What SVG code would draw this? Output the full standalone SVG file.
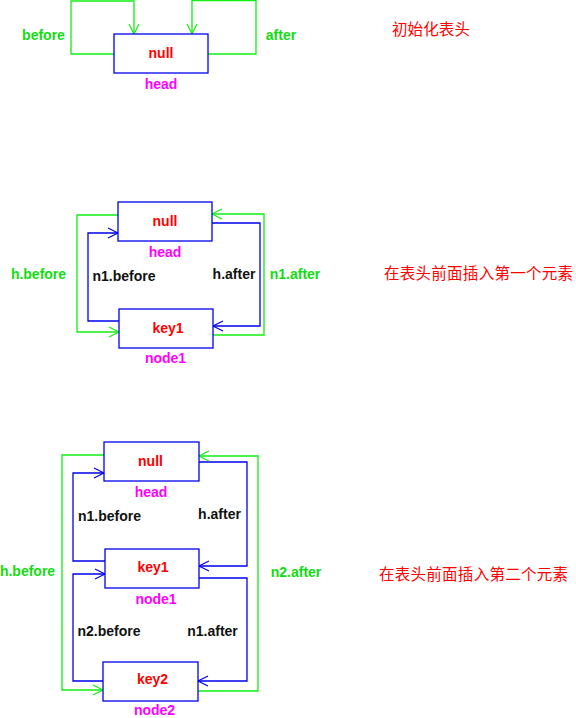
<svg xmlns="http://www.w3.org/2000/svg" width="576" height="718" viewBox="0 0 576 718">
<style>
.box{fill:#fff;stroke:#0000ee;stroke-width:1.3}
.g{fill:none;stroke:#11ee11;stroke-width:1.3}
.b{fill:none;stroke:#0000ee;stroke-width:1.3}
.t{font-family:"Liberation Sans",Arial,sans-serif;font-weight:bold;font-size:14px;text-anchor:middle}
.red{fill:#ff0000}
.mag{fill:#ff00ff}
.blk{fill:#111}
.grn{fill:#11dd11}
.cn{font-family:"Noto Sans CJK SC","Noto Sans CJK JP",sans-serif;font-size:15.5px;fill:#ff0000}
</style>
<defs>
<marker id="ag" markerUnits="userSpaceOnUse" markerWidth="14" markerHeight="14" refX="0" refY="0" viewBox="-12 -7 14 14" orient="auto">
<path d="M-10,-5 L0,0 L-10,5" fill="none" stroke="#11ee11" stroke-width="1.2"/>
</marker>
<marker id="ab" markerUnits="userSpaceOnUse" markerWidth="14" markerHeight="14" refX="0" refY="0" viewBox="-12 -7 14 14" orient="auto">
<path d="M-10,-5 L0,0 L-10,5" fill="none" stroke="#0000ee" stroke-width="1.2"/>
</marker>
</defs>
<rect width="576" height="718" fill="#fff"/>

<g id="connectors">
<!-- diagram 1 -->
<path class="g" d="M114,54 H71 V1 H134 V34" marker-end="url(#ag)"/>
<path class="g" d="M208,54 H256 V0.5 H192 V34" marker-end="url(#ag)"/>
<!-- diagram 2 -->
<path class="g" d="M118,215 H77 V332 H119" marker-end="url(#ag)"/>
<path class="b" d="M119,321 H88 V233 H118" marker-end="url(#ab)"/>
<path class="b" d="M212,223 H260 V326 H213" marker-end="url(#ab)"/>
<path class="g" d="M213,335 H264 V214 H212" marker-end="url(#ag)"/>
<!-- diagram 3 -->
<path class="g" d="M104,455 H62 V690 H103" marker-end="url(#ag)"/>
<path class="b" d="M105,561 H73 V473 H104" marker-end="url(#ab)"/>
<path class="b" d="M103,681 H73 V574 H105" marker-end="url(#ab)"/>
<path class="b" d="M199,462 H247 V566 H199" marker-end="url(#ab)"/>
<path class="b" d="M199,578 H247 V681 H198" marker-end="url(#ab)"/>
<path class="g" d="M198,691 H258 V456 H199" marker-end="url(#ag)"/>
</g>

<g id="d1-head">
<rect class="box" x="114" y="34" width="94" height="39"/>
<text class="t red" x="161" y="58">null</text>
<text class="t mag" x="161" y="89">head</text>
</g>
<g id="d1-labels">
<text class="t grn" x="43.5" y="40">before</text>
<text class="t grn" x="281" y="40">after</text>
<text class="cn" x="392" y="35" textLength="78">初始化表头</text>
</g>

<g id="d2-head">
<rect class="box" x="118" y="202" width="94" height="39"/>
<text class="t red" x="165" y="226">null</text>
<text class="t mag" x="165" y="257">head</text>
</g>
<g id="d2-node1">
<rect class="box" x="119" y="309" width="94" height="39"/>
<text class="t red" x="168" y="333">key1</text>
<text class="t mag" x="165.5" y="363">node1</text>
</g>
<g id="d2-labels">
<text class="t grn" x="38.5" y="279">h.before</text>
<text class="t blk" x="124" y="281">n1.before</text>
<text class="t blk" x="234" y="279">h.after</text>
<text class="t grn" x="295" y="279">n1.after</text>
<text class="cn" x="384" y="279" textLength="189">在表头前面插入第一个元素</text>
</g>

<g id="d3-head">
<rect class="box" x="104" y="442" width="95" height="39"/>
<text class="t red" x="150.5" y="466">null</text>
<text class="t mag" x="151" y="497">head</text>
</g>
<g id="d3-node1">
<rect class="box" x="105" y="549" width="94" height="39"/>
<text class="t red" x="153" y="572">key1</text>
<text class="t mag" x="156" y="604">node1</text>
</g>
<g id="d3-node2">
<rect class="box" x="103" y="662" width="95" height="39"/>
<text class="t red" x="152.5" y="684">key2</text>
<text class="t mag" x="154.5" y="715">node2</text>
</g>
<g id="d3-labels">
<text class="t grn" x="27.5" y="576">h.before</text>
<text class="t blk" x="109.5" y="521">n1.before</text>
<text class="t blk" x="219.5" y="519">h.after</text>
<text class="t blk" x="109" y="636">n2.before</text>
<text class="t blk" x="212.5" y="636">n1.after</text>
<text class="t grn" x="296" y="577">n2.after</text>
<text class="cn" x="379" y="580" textLength="189">在表头前面插入第二个元素</text>
</g>
</svg>
